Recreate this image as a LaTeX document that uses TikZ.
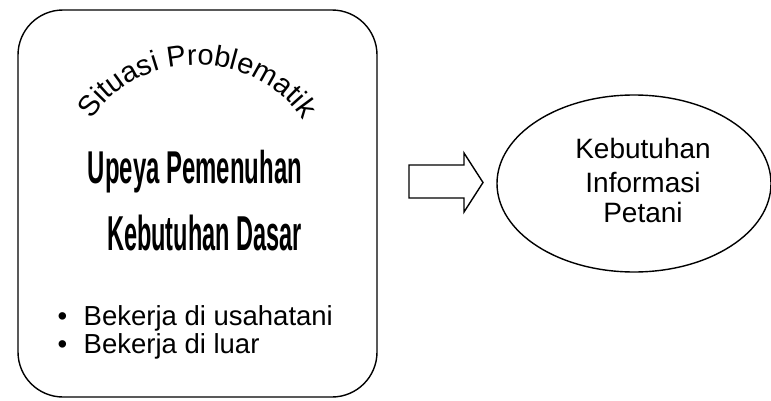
\documentclass[tikz,border=0pt]{standalone}
\usepackage{fontspec}
\setmainfont{Liberation Sans}
\usetikzlibrary{shapes.geometric,decorations.text}
\newcommand\arcfont{\fontsize{29}{29}\selectfont}
\begin{document}
\begin{tikzpicture}[x=1pt,y=1pt,line width=1.4pt,
 tall/.style={inner sep=0pt,anchor=base,font=\bfseries\fontsize{46}{46}\selectfont},
 item/.style={inner sep=0pt,anchor=base west,font=\fontsize{27.5}{28}\selectfont},
 info/.style={inner sep=0pt,anchor=base,font=\fontsize{28}{32}\selectfont}]
 \useasboundingbox (0,0) rectangle (771,400);
 % left box
 \node[draw,rounded corners=45pt,minimum width=359pt,minimum height=387pt,inner sep=0pt] (situasi) at (197.5,196.5) {};
 \path[decorate,font=\arcfont,decoration={text along path,text={|\arcfont|Situasi Problematik},text align=center}]
  (197,225) ++(165:122 and 110) arc[start angle=165,end angle=15,x radius=122,y radius=110];
 \node[tall] (upaya) at (195,217) {\scalebox{0.52}[1]{Upeya Pemenuhan}};
 \node[tall,font=\bfseries\fontsize{49}{49}\selectfont] (dasar) at (204.5,150) {\scalebox{0.48}[1]{Kebutuhan Dasar}};
 \node[item] (usaha) at (57,75) {\makebox[26pt][l]{•}Bekerja di usahatani};
 \node[item] (luar) at (57,47) {\makebox[26pt][l]{•}Bekerja di luar};
 % block arrow
 \draw[line join=miter] (409,235) -- (464,235) -- (464,247) -- (483,217.5) -- (464,188) -- (464,202) -- (409,202) -- cycle;
 % right ellipse
 \node[draw,ellipse,minimum width=274pt,minimum height=177pt,inner sep=0pt] (kebutuhan) at (634,216.5) {};
 \node[info] (keb) at (643,242) {Kebutuhan};
 \node[info] (inf) at (643,208) {Informasi};
 \node[info] (pet) at (643,178) {Petani};
\end{tikzpicture}
\end{document}
